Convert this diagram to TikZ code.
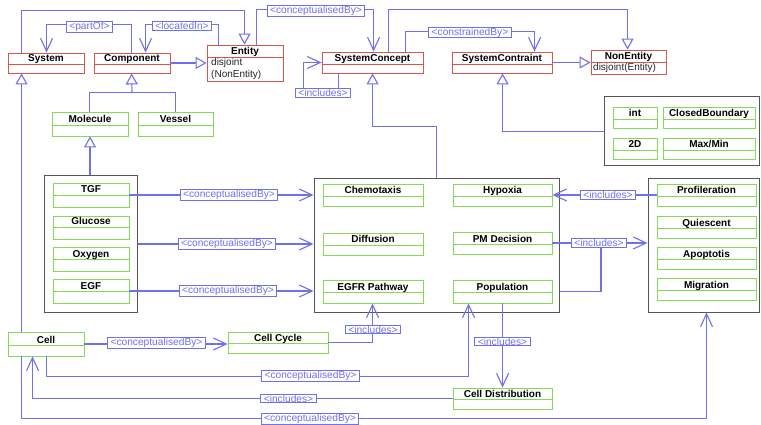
\documentclass[tikz,border=0pt]{standalone}
\usepackage{fontspec}
\setmainfont{Liberation Sans}
\usetikzlibrary{arrows.meta,fit}
\definecolor{cred}{RGB}{214,86,76}
\definecolor{cgreen}{RGB}{130,218,85}
\definecolor{cblue}{RGB}{112,112,236}
\definecolor{cgray}{RGB}{85,85,85}
\tikzset{
 boxline/.style={line width=0.9pt},
 conn/.style={draw=cblue, line width=1.1pt},
 gen/.style={conn, -{Triangle[open,fill=white,length=11pt,width=12pt]}},
 assoc/.style={conn, -{Straight Barb[length=13pt,width=12pt]}},
 lbl/.style={draw=cblue, fill=white, text=cblue, font=\fontsize{10.2}{11}\selectfont, inner xsep=3pt, inner ysep=0.5pt, line width=0.9pt},
 ttl/.style={font=\fontsize{10}{11}\selectfont\bfseries, text=black, inner sep=0, anchor=base},
 bodytxt/.style={font=\fontsize{10}{11}\selectfont, text=black!85, inner sep=0, anchor=base west},
 cont/.style={draw=cgray, line width=1pt, inner sep=0},
}
\newcommand\umlbox[8]{%
 \coordinate (#1-a) at (#3,#4);
 \coordinate (#1-b) at (#5,#6);
 \node[draw=#2, boxline, fit=(#1-a)(#1-b), inner sep=0] (#1) {};
 \draw[#2, boxline] (#3,#7) -- (#5,#7);
 \node[ttl] (#1-t) at ({(#3+#5)/2},{#7-2}) {#8};
}
\newcommand\contbox[5]{%
 \coordinate (#1-a) at (#2,#3);
 \coordinate (#1-b) at (#4,#5);
 \node[cont, fit=(#1-a)(#1-b)] (#1) {};
}
\begin{document}
\begin{tikzpicture}[x=1pt,y=-1pt]
\fill[white] (0,0) rectangle (761,425);
\useasboundingbox (0,0) rectangle (761,425);
% containers
\contbox{cons}{604}{97}{759.5}{166}
\contbox{molc}{44}{176}{137}{312}
\contbox{proc}{314}{179}{559}{312}
\contbox{states}{648}{179}{759.5}{312}
% red classes
\umlbox{System}{cred}{8}{53}{84}{73}{64}{System}
\umlbox{Component}{cred}{94}{53}{170}{73}{64}{Component}
\umlbox{Entity}{cred}{207}{45}{283}{81}{57}{Entity}
\node[bodytxt] (Entity-b1) at (211,66) {disjoint};
\node[bodytxt] (Entity-b2) at (211,77.5) {(NonEntity)};
\umlbox{SystemConcept}{cred}{322}{52}{423}{73}{64}{SystemConcept}
\umlbox{SystemContraint}{cred}{452}{52}{552}{73}{64}{SystemContraint}
\umlbox{NonEntity}{cred}{591}{50}{666}{74}{62}{NonEntity}
\node[bodytxt] (NonEntity-b1) at (593,71) {disjoint(Entity)};
% green classes
\umlbox{Molecule}{cgreen}{52}{112}{128}{136}{125}{Molecule}
\umlbox{Vessel}{cgreen}{138}{112}{213}{136}{125}{Vessel}
\umlbox{Int}{cgreen}{613}{107}{657}{128}{119}{int}
\umlbox{ClosedB}{cgreen}{663}{107}{755}{128}{119}{ClosedBoundary}
\umlbox{TwoD}{cgreen}{613}{138}{657}{159}{150}{2D}
\umlbox{MaxMin}{cgreen}{663}{138}{755}{159}{150}{Max/Min}
\umlbox{TGF}{cgreen}{53}{183}{129}{207}{195}{TGF}
\umlbox{Glucose}{cgreen}{53}{216}{129}{239}{227}{Glucose}
\umlbox{Oxygen}{cgreen}{53}{247}{129}{271}{259}{Oxygen}
\umlbox{EGF}{cgreen}{53}{279}{129}{303}{291}{EGF}
\umlbox{Chemotaxis}{cgreen}{323}{184}{423}{206}{196}{Chemotaxis}
\umlbox{Hypoxia}{cgreen}{453}{184}{552}{206}{196}{Hypoxia}
\umlbox{Diffusion}{cgreen}{323}{233}{423}{255}{245}{Diffusion}
\umlbox{PMDecision}{cgreen}{453}{232}{552}{254}{244}{PM Decision}
\umlbox{EGFR}{cgreen}{323}{280}{423}{303}{292}{EGFR Pathway}
\umlbox{Population}{cgreen}{453}{280}{552}{303}{292}{Population}
\umlbox{Profileration}{cgreen}{657}{184}{756}{206}{196}{Profileration}
\umlbox{Quiescent}{cgreen}{657}{216}{756}{238}{228}{Quiescent}
\umlbox{Apoptotis}{cgreen}{657}{247}{756}{269}{259}{Apoptotis}
\umlbox{Migration}{cgreen}{657}{278}{756}{300}{290}{Migration}
\umlbox{Cell}{cgreen}{8}{332}{84}{356}{345}{Cell}
\umlbox{CellCycle}{cgreen}{228}{332}{328}{353}{343}{Cell Cycle}
\umlbox{CellDist}{cgreen}{453}{388}{552}{409}{399}{Cell Distribution}
% junction coordinates
\coordinate (jMV) at (132,93);
\coordinate (jInc) at (601,243);
% connectors
\draw[gen] ([xshift=14pt]Cell.north west) -- ([xshift=14pt]System.south west);
\draw[gen] ([xshift=14pt]System.north west) -- ++(0,-42) -| ([xshift=38pt]Entity.north west);
\draw[assoc] ([xshift=38pt]Component.north west) -- ++(0,-28) -| ([xshift=39pt]System.north west);
\draw[assoc] ([xshift=12pt]Entity.north west) -- ++(0,-20) -| ([xshift=52pt]Component.north west);
\draw[gen] (Component.east) -- (Component.east -| Entity.west);
\draw[conn] ([xshift=38pt]Molecule.north west) -- ++(0,-19) -| ([xshift=38pt]Vessel.north west);
\draw[gen] (jMV) -- ([xshift=38pt]Component.south west);
\draw[gen] (molc.north -| Molecule.south) -- (Molecule.south);
\draw[assoc] ([xshift=50pt]Entity.north west) -- ++(0,-35) -| ([xshift=52pt]SystemConcept.north west);
\draw[gen] ([xshift=67pt]SystemConcept.north west) -- ++(0,-42) -| ([xshift=37pt]NonEntity.north west);
\draw[assoc] ([xshift=84pt]SystemConcept.north west) -- ++(0,-20) -| ([xshift=83pt]SystemContraint.north west);
\draw[gen] (SystemContraint.east) -- (SystemContraint.east -| NonEntity.west);
\draw[assoc] ([xshift=17pt]SystemConcept.south west) -- ++(0,20) -- ++(-35,0) |- (SystemConcept.west);
\draw[gen] ([xshift=123pt]proc.north west) -- ++(0,-52) -| ([xshift=51pt]SystemConcept.south west);
\draw[gen] (cons.west) -| ([xshift=51pt]SystemContraint.south west);
\draw[assoc] (TGF.east) -- (TGF.east -| proc.west);
\draw[assoc] (molc.east) -- (molc.east -| proc.west);
\draw[assoc] (EGF.east) -- (EGF.east -| proc.west);
\draw[assoc] (Profileration.west) -- (Profileration.west -| Hypoxia.east);
\draw[assoc] (PMDecision.east) -- (PMDecision.east -| states.west);
\draw[conn] ([yshift=21pt]proc.south east) -| (jInc);
\draw[assoc] (Cell.east) -- (Cell.east -| CellCycle.west);
\draw[assoc] (CellCycle.east) -| ([xshift=50pt]EGFR.south west);
\draw[assoc] ([xshift=39pt]Cell.south west) -- ++(0,20) -| ([xshift=16pt]Population.south west);
\draw[assoc] (CellDist.west) -| ([xshift=25pt]Cell.south west);
\draw[assoc] ([xshift=14pt]Cell.south west) -- ++(0,62) -| ([xshift=59pt]states.south west);
\draw[assoc] ([xshift=50pt]Population.south west) -- ([xshift=50pt]CellDist.north west);
% labels
\node[lbl] (lPartOf) at (89.5,27) {<partOf>};
\node[lbl] (lLocIn) at (182,26) {<locatedIn>};
\node[lbl] (lConcTop) at (316,11) {<conceptualisedBy>};
\node[lbl] (lConstr) at (470,32.5) {<constrainedBy>};
\node[lbl] (lIncSC) at (323,93) {<includes>};
\node[lbl] (lConc1) at (229,195) {<conceptualisedBy>};
\node[lbl] (lConc2) at (227,244) {<conceptualisedBy>};
\node[lbl] (lConc3) at (228,291) {<conceptualisedBy>};
\node[lbl] (lIncHyp) at (608,195) {<includes>};
\node[lbl] (lIncPM) at (599,243) {<includes>};
\node[lbl] (lConcCC) at (156.5,343) {<conceptualisedBy>};
\node[lbl] (lIncCC) at (373,329.5) {<includes>};
\node[lbl] (lConcPop) at (310.5,376) {<conceptualisedBy>};
\node[lbl] (lIncCell) at (288.5,398.5) {<includes>};
\node[lbl] (lConcSt) at (310,419) {<conceptualisedBy>};
\node[lbl] (lIncCD) at (502.5,341.5) {<includes>};
\end{tikzpicture}
\end{document}
